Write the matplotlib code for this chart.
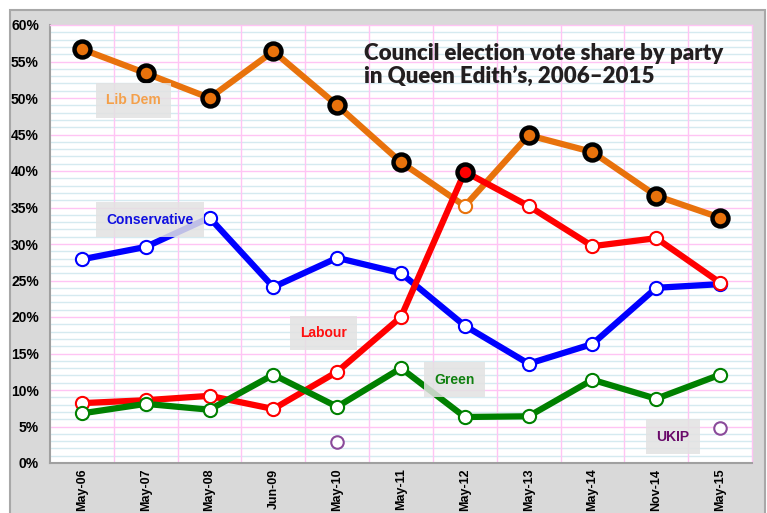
import numpy as np
import matplotlib
matplotlib.use("Agg")
import matplotlib.pyplot as plt
from matplotlib.patches import Rectangle
from matplotlib.ticker import MultipleLocator, FuncFormatter

# data (vote share, %)
dates = ["May-06", "May-07", "May-08", "Jun-09", "May-10", "May-11",
         "May-12", "May-13", "May-14", "Nov-14", "May-15"]
lib_dem = [56.7, 53.4, 50.0, 56.4, 49.0, 41.2, 35.2, 44.9, 42.6, 36.6, 33.6]
conservative = [27.9, 29.6, 33.6, 24.1, 28.1, 26.0, 18.8, 13.6, 16.3, 24.0, 24.5]
labour = [8.2, 8.6, 9.2, 7.4, 12.5, 20.0, 39.9, 35.2, 29.7, 30.8, 24.7]
green = [6.8, 8.1, 7.3, 12.1, 7.7, 13.0, 6.3, 6.4, 11.4, 8.8, 12.1]
ukip = [np.nan, np.nan, np.nan, np.nan, 2.9, np.nan, np.nan, np.nan, np.nan, np.nan, 4.8]

party_names = ["Lib Dem", "Conservative", "Labour", "Green", "UKIP"]
party_colors = ["#e8720c", "#0000ff", "#ff0000", "#008000", "#8a4a9a"]
label_colors = ["#f4a04a", "#1010e0", "#ff1010", "#108010", "#6a0a6a"]
label_pos = [(0.38, 49.7), (0.39, 33.3), (3.42, 17.8), (5.52, 11.4), (9.0, 3.6)]

series = [lib_dem, conservative, labour, green, ukip]

narrow = ["Liberation Sans", "DejaVu Sans"]

fig = plt.figure(figsize=(7.67, 5.13), dpi=100)
fig.patch.set_facecolor("white")
# gray frame panel behind the chart
fig.patches.append(Rectangle((10 / 767, -0.01), 755 / 767, 1 - 10 / 513 + 0.01,
                             transform=fig.transFigure, facecolor="#d9d9d9",
                             edgecolor="#a8a8a8", linewidth=1.5, zorder=0))

ax = fig.add_axes([50 / 767, 50 / 513, 702 / 767, 438 / 513])
ax.set_facecolor("white")
ax.set_zorder(1)

x = np.arange(len(dates))
ax.set_xlim(-0.5, len(dates) - 0.5)
ax.set_ylim(0, 60)

# grid
for v in np.arange(1, 60):
    if v % 5 != 0:
        ax.axhline(v, color="#d5eaf0", lw=1.0, zorder=1)
for v in np.arange(5, 60, 5):
    ax.axhline(v, color="#ffc4f4", lw=1.0, zorder=1)
for v in np.arange(0.5, len(dates) - 0.5, 1):
    ax.axvline(v, color="#ffc4f4", lw=1.0, zorder=1)

data = np.array(series, dtype=float)
winner = np.nanargmax(data, axis=0)

for i, (vals, col) in enumerate(zip(series, party_colors)):
    vals = np.array(vals, dtype=float)
    if party_names[i] == "UKIP":
        ax.plot(x, vals, ls="none", marker="o", ms=9, mfc="white", mec=col,
                mew=1.5, zorder=3)
        continue
    ax.plot(x, vals, color=col, lw=4.5, solid_capstyle="round", zorder=3)
    ax.plot(x, vals, ls="none", marker="o", ms=9.5, mfc="white", mec=col,
            mew=1.5, zorder=4)
    w = winner == i
    ax.plot(x[w], vals[w], ls="none", marker="o", ms=11.5, mfc=col, mec="black",
            mew=3.2, zorder=5)

# series labels
for name, c, (lx, ly) in zip(party_names, label_colors, label_pos):
    ax.text(lx, ly, name, color=c, fontsize=10, fontweight="bold", family=narrow,
            va="center", ha="left", zorder=6,
            bbox=dict(boxstyle="square,pad=0.75", facecolor="#e2e2e2",
                      edgecolor="none", alpha=0.85))

ax.text(0.447, 0.958, "Council election vote share by party\nin Queen Edith\u2019s, 2006\u20132015",
        transform=ax.transAxes, fontsize=16, fontweight="heavy", color="#231f20",
        family=["Lato", "DejaVu Sans"], va="top", ha="left", linespacing=1.1, zorder=6)

ax.yaxis.set_major_locator(MultipleLocator(5))
ax.yaxis.set_major_formatter(FuncFormatter(lambda v, p: "%d%%" % v))
ax.set_xticks(x)
ax.set_xticklabels(dates, rotation=90, va="top", ha="center")
for lab in ax.get_yticklabels():
    lab.set_family(narrow)
    lab.set_fontweight("bold")
    lab.set_fontsize(10)
for lab in ax.get_xticklabels():
    lab.set_family(narrow)
    lab.set_fontweight("bold")
    lab.set_fontsize(9)
ax.tick_params(axis="both", length=0)
ax.tick_params(axis="y", pad=8)
ax.tick_params(axis="x", pad=4)

for side in ["left", "bottom"]:
    ax.spines[side].set_color("#a0a0a0")
    ax.spines[side].set_linewidth(1.5)
for side in ["top", "right"]:
    ax.spines[side].set_color("#ffc4f4")
    ax.spines[side].set_linewidth(1.0)

fig.savefig("out.png", dpi=100)
